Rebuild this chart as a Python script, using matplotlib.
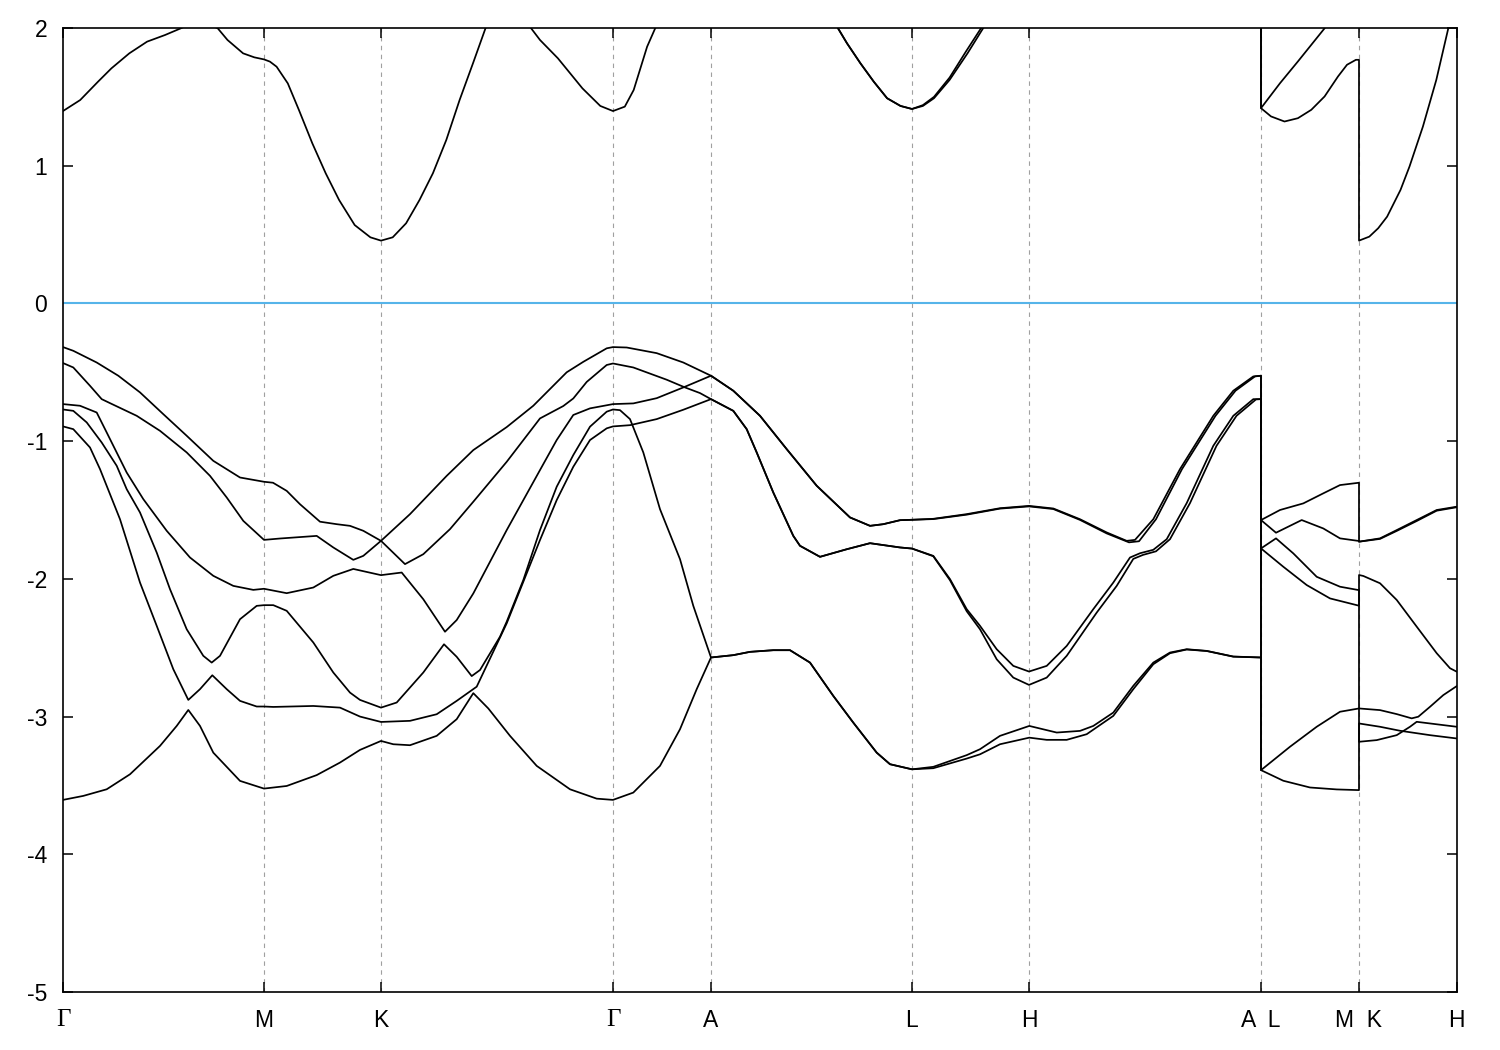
import matplotlib
matplotlib.use("Agg")
import matplotlib.pyplot as plt

plt.rcParams['font.family'] = ['Liberation Sans', 'DejaVu Sans']
plt.rcParams['axes.unicode_minus'] = False

# high-symmetry points (path coordinate) and labels
kpoint_pos = [0, 201, 318, 550, 648, 849, 966, 1198, 1296, 1393.7]
kpoint_labels = ["Γ", "M", "K", "Γ", "A", "L", "H", "A  L", "M  K", "H"]
y_ticks = [2, 1, 0, -1, -2, -3, -4, -5]
y_range = [-5, 2]
fermi_level = 0.0

# ---- valence bands ----
band1_k = [0, 10.3, 33.7, 55.3, 77, 100.3, 123.7, 150.3, 177, 201,
           210, 223.7, 237, 257, 273.7, 287, 300.3, 318,
           347, 383.7, 410.3, 443.7, 470.3, 503.7, 520.3, 543.7, 550,
           563.7, 593.7, 620.3, 648,
           670.3, 697, 723.7, 753.7, 787, 807, 820.3, 837, 849,
           870.3, 903.7, 937, 966,
           990.3, 1017, 1043.7, 1063.7, 1072, 1090.3, 1117, 1150.3, 1170.3, 1190.3, 1198,
           1198, 1217, 1240.3, 1260.3, 1277, 1296,
           1296, 1317, 1333.7, 1353.7, 1373.7, 1393.7]
band1_e = [-0.317, -0.344, -0.429, -0.525, -0.646, -0.804, -0.961, -1.143, -1.264, -1.295,
           -1.302, -1.361, -1.458, -1.585, -1.603, -1.615, -1.651, -1.724,
           -1.530, -1.252, -1.065, -0.898, -0.743, -0.500, -0.424, -0.326, -0.317,
           -0.320, -0.361, -0.429, -0.525,
           -0.634, -0.816, -1.058, -1.324, -1.554, -1.615, -1.603, -1.574, -1.571,
           -1.564, -1.530, -1.487, -1.470,
           -1.489, -1.567, -1.663, -1.724, -1.717, -1.567, -1.203, -0.816, -0.634, -0.530, -0.525,
           -1.573, -1.500, -1.452, -1.379, -1.319, -1.302,
           -1.730, -1.706, -1.646, -1.573, -1.500, -1.476]

band2_k = [0, 10.3, 27, 38.7, 47, 73.7, 97, 123.7, 147, 163.7, 180.3, 201,
           217, 253.7, 270.3, 290.3, 300.3, 318,
           342, 360.3, 387, 410.3, 443.7, 477, 500.3, 510.3, 523.7, 543.7, 550,
           570.3, 603.7, 622, 637, 648,
           670.3, 683.7, 693.7, 710.3, 730.3, 737, 757, 783.7, 807, 837, 849,
           870.3, 887, 903.7, 917, 933.7, 950.3, 966,
           983.7, 1003.7, 1030.3, 1050.3, 1067, 1077, 1090.3, 1103.7, 1123.7, 1150.3, 1170.3, 1190.3, 1198,
           1198, 1227, 1253.7, 1277, 1296,
           1296, 1317, 1333.7, 1348.7, 1355.3, 1367, 1380.3, 1393.7]
band2_e = [-0.433, -0.465, -0.598, -0.695, -0.724, -0.816, -0.925, -1.082, -1.252, -1.409, -1.579, -1.717,
           -1.707, -1.688, -1.772, -1.862, -1.833, -1.724,
           -1.893, -1.821, -1.639, -1.440, -1.150, -0.835, -0.745, -0.690, -0.570, -0.447, -0.436,
           -0.465, -0.554, -0.610, -0.651, -0.695,
           -0.780, -0.913, -1.082, -1.373, -1.688, -1.760, -1.840, -1.785, -1.741, -1.772, -1.780,
           -1.833, -2.002, -2.220, -2.341, -2.511, -2.632, -2.673,
           -2.632, -2.487, -2.220, -2.027, -1.845, -1.814, -1.789, -1.712, -1.450, -1.034, -0.816, -0.695, -0.695,
           -3.389, -3.219, -3.074, -2.965, -2.941,
           -2.941, -2.953, -2.982, -3.013, -3.001, -2.929, -2.844, -2.779]

band3_k = [0, 17, 33.7, 43.7, 63.7, 80.3, 103.7, 127, 150.3, 170.3, 190.3, 201,
           223.7, 250.3, 270.3, 290.3, 318,
           338.7, 360.3, 382, 393.7, 410.3, 443.7, 477, 493.7, 510.3, 527, 550,
           570.3, 593.7, 620.3, 648,
           670.3, 697, 723.7, 753.7, 787, 807, 820.3, 837, 849,
           870.3, 903.7, 937, 966,
           990.3, 1017, 1043.7, 1066, 1076, 1093, 1119, 1152.5, 1172.5, 1192, 1198,
           1198, 1213, 1238.7, 1260.3, 1277, 1296,
           1296, 1317, 1333.7, 1353.7, 1373.7, 1393.7]
band3_e = [-0.731, -0.743, -0.792, -0.937, -1.228, -1.421, -1.651, -1.845, -1.978, -2.051, -2.080, -2.072,
           -2.104, -2.063, -1.978, -1.928, -1.973,
           -1.954, -2.148, -2.384, -2.299, -2.106, -1.646, -1.210, -0.992, -0.810, -0.762, -0.731,
           -0.726, -0.688, -0.610, -0.525,
           -0.634, -0.816, -1.058, -1.324, -1.554, -1.615, -1.603, -1.574, -1.571,
           -1.566, -1.534, -1.490, -1.474,
           -1.493, -1.572, -1.670, -1.735, -1.727, -1.567, -1.203, -0.816, -0.634, -0.530, -0.525,
           -1.573, -1.665, -1.573, -1.634, -1.706, -1.725,
           -1.730, -1.710, -1.652, -1.580, -1.505, -1.480]

band4_k = [0, 10.3, 23.7, 38.7, 53.7, 63.7, 77, 93.7, 107, 123.7, 140.3, 148.7, 157, 177, 193.7, 201,
           210.3, 223.7, 250.3, 270.3, 287, 297, 318,
           333.7, 360.3, 381, 393.7, 408.7, 417, 437, 443.7, 460.3, 477, 493.7, 510.3, 527, 543.7, 550,
           557, 567, 580.3, 597, 617, 630.3, 648,
           670.3, 687, 710.3, 727, 747, 770.3, 790.3, 813.7, 827, 849,
           870.3, 903.7, 917, 937, 966.3, 993.7, 1017, 1030.3, 1050.3, 1070.3, 1090.3, 1107, 1123.7, 1143.7, 1170.3, 1198,
           1198, 1220.3, 1243.7, 1267, 1296,
           1296, 1300.3, 1317, 1333.7, 1353.7, 1373.7, 1387, 1393.7]
band4_e = [-0.770, -0.780, -0.864, -1.010, -1.179, -1.349, -1.518, -1.809, -2.075, -2.366, -2.559, -2.608, -2.559, -2.293, -2.196, -2.191,
           -2.191, -2.232, -2.462, -2.680, -2.826, -2.879, -2.935,
           -2.898, -2.680, -2.475, -2.566, -2.706, -2.662, -2.420, -2.311, -2.009, -1.646, -1.331, -1.101, -0.895, -0.786, -0.770,
           -0.775, -0.840, -1.082, -1.494, -1.857, -2.196, -2.571,
           -2.554, -2.530, -2.518, -2.518, -2.608, -2.850, -3.044, -3.262, -3.346, -3.383,
           -3.365, -3.280, -3.237, -3.140, -3.068, -3.116, -3.104, -3.068, -2.971, -2.777, -2.608, -2.535, -2.511, -2.523, -2.564, -2.571,
           -1.779, -1.912, -2.045, -2.142, -2.195,
           -1.972, -1.979, -2.032, -2.153, -2.347, -2.540, -2.649, -2.674]

band5_k = [0, 10.3, 27, 37, 57, 77, 93.7, 110.3, 125.3, 137, 149.3, 163.7, 177, 193.7, 201,
           210.3, 250.3, 277, 297, 318,
           347, 373.7, 393.7, 413.7, 443.7, 477, 493.7, 510.3, 527, 543.7, 550,
           567, 593.7, 620.3, 648,
           670.3, 683.7, 693.7, 710.3, 730.3, 737, 757, 783.7, 807, 837, 849,
           870.3, 887, 903.7, 917, 933.7, 950.3, 966,
           983.7, 1003.7, 1033.7, 1053.7, 1070.3, 1080, 1093, 1107, 1127, 1153.5, 1173.5, 1193, 1198,
           1198, 1213, 1230.3, 1253.7, 1277, 1296,
           1296, 1313.7, 1333.7, 1347, 1353.7, 1367, 1393.7]
band5_e = [-0.893, -0.913, -1.046, -1.203, -1.567, -2.027, -2.341, -2.656, -2.879, -2.801, -2.700, -2.801, -2.886, -2.927, -2.927,
           -2.930, -2.923, -2.935, -3.000, -3.039,
           -3.031, -2.983, -2.886, -2.783, -2.323, -1.718, -1.428, -1.186, -0.992, -0.907, -0.893,
           -0.884, -0.840, -0.772, -0.695,
           -0.780, -0.913, -1.082, -1.373, -1.688, -1.760, -1.840, -1.785, -1.741, -1.772, -1.780,
           -1.836, -2.010, -2.235, -2.366, -2.584, -2.717, -2.770,
           -2.717, -2.559, -2.245, -2.051, -1.855, -1.826, -1.800, -1.712, -1.450, -1.034, -0.816, -0.697, -0.695,
           -1.779, -1.706, -1.815, -1.985, -2.057, -2.082,
           -3.183, -3.171, -3.135, -3.074, -3.038, -3.050, -3.074]

band6_k = [0, 20.3, 43.7, 67, 97, 113.7, 125.3, 137, 150.3, 177, 201,
           223.7, 253.7, 277, 297, 318,
           330.3, 347, 373.7, 393.7, 410.3, 425.3, 447, 473.7, 507, 533.7, 550,
           570.3, 597, 617, 633.7, 648,
           670.3, 687, 710.3, 727, 747, 770.3, 790.3, 813.7, 827, 849,
           870.3, 903.7, 917, 937, 966.3, 983.7, 1003.7, 1023.7, 1050.3, 1070.3, 1090.3, 1107, 1123.7, 1143.7, 1170.3, 1198,
           1198, 1220.3, 1247, 1273.7, 1296,
           1296, 1317, 1337, 1367, 1393.7]
band6_e = [-3.605, -3.576, -3.528, -3.419, -3.213, -3.068, -2.952, -3.068, -3.262, -3.467, -3.523,
           -3.504, -3.425, -3.334, -3.242, -3.177,
           -3.201, -3.208, -3.140, -3.019, -2.830, -2.941, -3.140, -3.358, -3.528, -3.596, -3.605,
           -3.552, -3.358, -3.092, -2.801, -2.571,
           -2.554, -2.530, -2.518, -2.518, -2.608, -2.850, -3.044, -3.262, -3.346, -3.383,
           -3.375, -3.305, -3.274, -3.201, -3.153, -3.169, -3.169, -3.128, -2.995, -2.801, -2.620, -2.540, -2.513, -2.524, -2.565, -2.571,
           -3.389, -3.466, -3.515, -3.529, -3.534,
           -3.050, -3.074, -3.103, -3.135, -3.159]

# ---- conduction bands ----
cband1_k = [0, 17.2, 35, 48.4, 66.3, 84.1, 102, 117.6, 136, 154.7, 164.5, 180.1, 191.3, 201,
            206.9, 213.6, 224.8, 235.9, 249.3, 262.7, 276.1, 291.7, 307.4, 318,
            329.7, 343.1, 356.5, 369.9, 383.3, 396.6, 410, 422.5, 445, 468.1, 477, 494.9, 519.4, 537.3, 550,
            561.8, 570.7, 584.1, 592.2, 648,
            760, 775, 784, 797.4, 810.8, 824.1, 837.5, 849,
            859.9, 871, 886.6, 904.5, 920.1, 966, 1198,
            1198, 1208, 1221.5, 1234.9, 1248.3, 1261.6, 1275, 1284, 1292.9, 1296,
            1296, 1306.3, 1315.2, 1324.1, 1337.5, 1346.5, 1359.9, 1373.3, 1385.3, 1393.7]
cband1_e = [1.397, 1.477, 1.610, 1.707, 1.816, 1.901, 1.949, 1.997, 2.06, 1.998, 1.913, 1.816, 1.787, 1.772,
            1.756, 1.719, 1.598, 1.405, 1.163, 0.945, 0.751, 0.569, 0.480, 0.456,
            0.480, 0.582, 0.751, 0.945, 1.187, 1.477, 1.744, 1.998, 2.3, 1.998, 1.913, 1.780, 1.562, 1.434, 1.397,
            1.429, 1.550, 1.864, 1.998, 2.6,
            2.25, 1.998, 1.889, 1.744, 1.610, 1.490, 1.434, 1.412,
            1.434, 1.490, 1.623, 1.816, 1.998, 2.5, 2.6,
            1.418, 1.358, 1.321, 1.345, 1.406, 1.503, 1.648, 1.733, 1.769, 1.769,
            0.456, 0.485, 0.546, 0.630, 0.824, 0.994, 1.284, 1.623, 1.998, 2.2]

cband2_k = [648, 760, 775, 784, 797.4, 810.8, 824.1, 837.5, 849,
            859.9, 871, 886.6, 903, 918, 966, 1198,
            1198, 1217, 1234.9, 1261.6, 1296]
cband2_e = [2.6, 2.25, 1.998, 1.889, 1.744, 1.610, 1.490, 1.434, 1.412,
            1.440, 1.500, 1.640, 1.830, 1.998, 2.5, 2.6,
            1.418, 1.599, 1.757, 1.998, 2.4]

bands = [(band1_k, band1_e), (band2_k, band2_e), (band3_k, band3_e),
         (band4_k, band4_e), (band5_k, band5_e), (band6_k, band6_e),
         (cband1_k, cband1_e), (cband2_k, cband2_e)]

fig = plt.figure(figsize=(15, 10.5), dpi=100)
ax = fig.add_axes([63 / 1500, 1 - 992 / 1050, (1456.7 - 63) / 1500, (992 - 28) / 1050])
ax.set_xlim(kpoint_pos[0], kpoint_pos[-1])
ax.set_ylim(*y_range)

for kp in kpoint_pos[1:-1]:
    ax.axvline(kp, color='#a0a0a0', lw=0.8, ls=(0, (4, 4)), zorder=1)
ax.axhline(fermi_level, color='#56b4e9', lw=1.5, zorder=2)

for kk, ee in bands:
    ax.plot(kk, ee, color='black', lw=1.25, zorder=3,
            solid_joinstyle='round', solid_capstyle='round')

ax.set_xticks(kpoint_pos)
ax.set_xticklabels(kpoint_labels)
ax.set_yticks(y_ticks)
ax.set_yticklabels([str(v) for v in y_ticks])
ax.tick_params(axis='both', direction='in', length=7, width=1.1, top=True, right=True,
               labelsize=16.5, colors='black')
ax.tick_params(axis='x', pad=12)
ax.tick_params(axis='y', pad=11.5)
for lab in ax.get_xticklabels():
    if lab.get_text() == "Γ":
        lab.set_fontfamily(['Liberation Serif', 'DejaVu Serif'])
        lab.set_fontsize(18)
for sp in ax.spines.values():
    sp.set_linewidth(1.2)

fig.savefig('out.png', dpi=100)
